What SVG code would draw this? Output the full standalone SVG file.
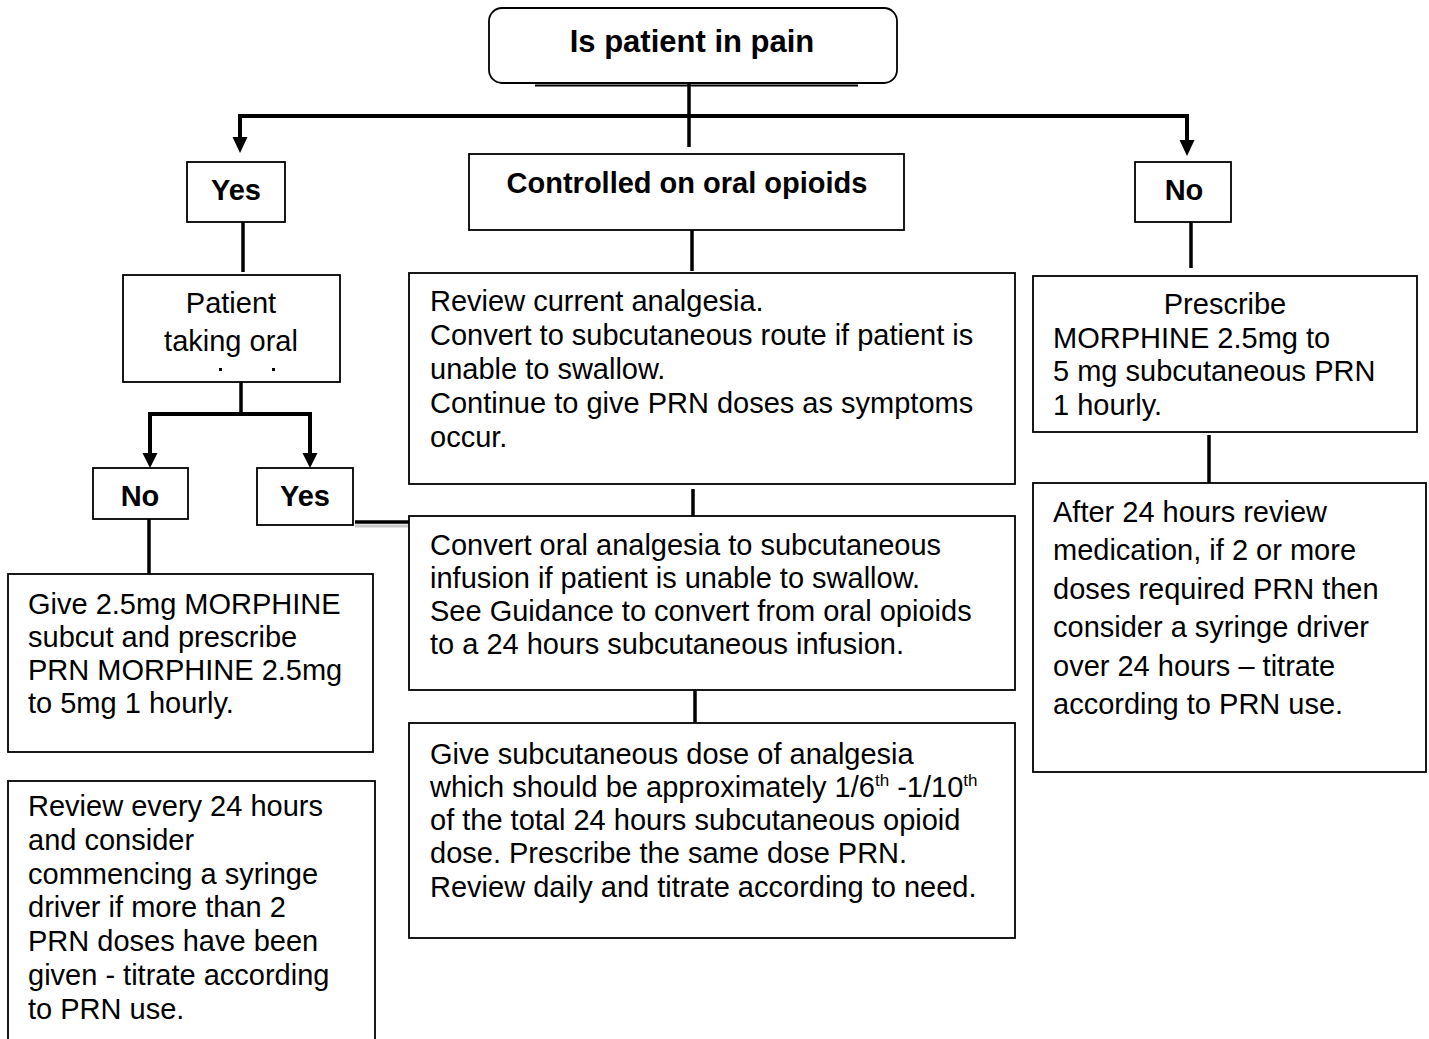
<svg xmlns="http://www.w3.org/2000/svg" width="1429" height="1039" viewBox="0 0 1429 1039">
<style>
.box{fill:#fff;stroke:#000;stroke-width:1.8}
.t{font-family:"Liberation Sans",Arial,sans-serif;font-size:29px;fill:#000}
.b{font-weight:bold}
.c{text-anchor:middle}
.ln{stroke:#000;stroke-width:3.5;fill:none}
.thick{stroke:#000;stroke-width:4;fill:none}
.sup{font-size:17px}
</style>
<defs>
<marker id="ah" markerWidth="16" markerHeight="16" refX="8" refY="15" orient="auto" markerUnits="userSpaceOnUse" viewBox="0 0 16 16">
<path d="M0.5,0 L15.5,0 L8,15.5 Z" fill="#000"/>
</marker>
</defs>
<rect width="1429" height="1039" fill="#fff"/>

<g id="connectors">
<line x1="535" y1="85.5" x2="858" y2="85.5" stroke="#000" stroke-width="2"/>
<line class="ln" x1="689" y1="84" x2="689" y2="147"/>
<path class="thick" d="M240,137 V116 H1187 V140"/>
<path d="M232.5,137 L247.5,137 L240,153 Z" fill="#000"/>
<path d="M1179.5,140 L1194.5,140 L1187,156 Z" fill="#000"/>
<line class="ln" x1="243" y1="222" x2="243" y2="272"/>
<line class="ln" x1="692" y1="230" x2="692" y2="271"/>
<line class="ln" x1="1191" y1="222" x2="1191" y2="268"/>
<line class="ln" x1="241" y1="382" x2="241" y2="414"/>
<path class="thick" d="M150,453 V414 H310 V453"/>
<path d="M142.5,453 L157.5,453 L150,468 Z" fill="#000"/>
<path d="M302.5,453 L317.5,453 L310,468 Z" fill="#000"/>
<line class="ln" x1="149" y1="519" x2="149" y2="574"/>
<line x1="355" y1="526" x2="409" y2="526" stroke="#c8c8c8" stroke-width="3"/>
<line class="ln" x1="355" y1="522" x2="409" y2="522"/>
<line class="ln" x1="693" y1="489" x2="693" y2="521"/>
<line class="ln" x1="695" y1="690" x2="695" y2="722"/>
<line class="ln" x1="1209" y1="435" x2="1209" y2="483"/>
</g>

<g id="n-pain">
<rect class="box" x="489" y="8" width="408" height="75" rx="13"/>
<text class="t b c" x="692" y="52" style="font-size:31px">Is patient in pain</text>
</g>

<g id="n-yes">
<rect class="box" x="187" y="162" width="98" height="60"/>
<text class="t b c" x="236" y="200">Yes</text>
</g>

<g id="n-controlled">
<rect class="box" x="469" y="154" width="435" height="76"/>
<text class="t b c" x="687" y="193">Controlled on oral opioids</text>
</g>

<g id="n-no">
<rect class="box" x="1135" y="162" width="96" height="60"/>
<text class="t b c" x="1184" y="200">No</text>
</g>

<g id="n-taking">
<rect class="box" x="123" y="275" width="217" height="107"/>
<text class="t c" x="231" y="313">Patient</text>
<text class="t c" x="231" y="351">taking oral</text>
<rect x="219" y="368" width="3" height="3" fill="#000"/>
<rect x="272" y="368" width="3" height="3" fill="#000"/>
</g>

<g id="n-no2">
<rect class="box" x="93" y="468" width="95" height="51"/>
<text class="t b c" x="140" y="506">No</text>
</g>

<g id="n-yes2">
<rect class="box" x="257" y="468" width="96" height="57"/>
<text class="t b c" x="305" y="506">Yes</text>
</g>

<g id="n-give">
<rect class="box" x="8" y="574" width="365" height="178"/>
<text class="t" x="28" y="614">Give 2.5mg MORPHINE</text>
<text class="t" x="28" y="647">subcut and prescribe</text>
<text class="t" x="28" y="680">PRN MORPHINE 2.5mg</text>
<text class="t" x="28" y="713">to 5mg 1 hourly.</text>
</g>

<g id="n-review24">
<rect class="box" x="8" y="781" width="367" height="270"/>
<text class="t" x="28" y="816">Review every 24 hours</text>
<text class="t" x="28" y="850">and consider</text>
<text class="t" x="28" y="884">commencing a syringe</text>
<text class="t" x="28" y="917">driver if more than 2</text>
<text class="t" x="28" y="951">PRN doses have been</text>
<text class="t" x="28" y="985">given - titrate according</text>
<text class="t" x="28" y="1019">to PRN use.</text>
</g>

<g id="n-review">
<rect class="box" x="409" y="273" width="606" height="211"/>
<text class="t" x="430" y="311">Review current analgesia.</text>
<text class="t" x="430" y="345">Convert to subcutaneous route if patient is</text>
<text class="t" x="430" y="379">unable to swallow.</text>
<text class="t" x="430" y="413">Continue to give PRN doses as symptoms</text>
<text class="t" x="430" y="447">occur.</text>
</g>

<g id="n-convert">
<rect class="box" x="409" y="516" width="606" height="174"/>
<text class="t" x="430" y="555">Convert oral analgesia to subcutaneous</text>
<text class="t" x="430" y="588">infusion if patient is unable to swallow.</text>
<text class="t" x="430" y="621">See Guidance to convert from oral opioids</text>
<text class="t" x="430" y="654">to a 24 hours subcutaneous infusion.</text>
</g>

<g id="n-subcut">
<rect class="box" x="409" y="723" width="606" height="215"/>
<text class="t" x="430" y="764">Give subcutaneous dose of analgesia</text>
<text class="t" x="430" y="797">which should be approximately 1/6<tspan class="sup" dy="-11">th</tspan><tspan dy="11"> -1/10</tspan><tspan class="sup" dy="-11">th</tspan></text>
<text class="t" x="430" y="830">of the total 24 hours subcutaneous opioid</text>
<text class="t" x="430" y="863">dose. Prescribe the same dose PRN.</text>
<text class="t" x="430" y="897">Review daily and titrate according to need.</text>
</g>

<g id="n-prescribe">
<rect class="box" x="1033" y="276" width="384" height="156"/>
<text class="t c" x="1225" y="314">Prescribe</text>
<text class="t" x="1053" y="348">MORPHINE 2.5mg to</text>
<text class="t" x="1053" y="381">5 mg subcutaneous PRN</text>
<text class="t" x="1053" y="415">1 hourly.</text>
</g>

<g id="n-after">
<rect class="box" x="1033" y="483" width="393" height="289"/>
<text class="t" x="1053" y="522">After 24 hours review</text>
<text class="t" x="1053" y="560">medication, if 2 or more</text>
<text class="t" x="1053" y="599">doses required PRN then</text>
<text class="t" x="1053" y="637">consider a syringe driver</text>
<text class="t" x="1053" y="676">over 24 hours – titrate</text>
<text class="t" x="1053" y="714">according to PRN use.</text>
</g>
</svg>
